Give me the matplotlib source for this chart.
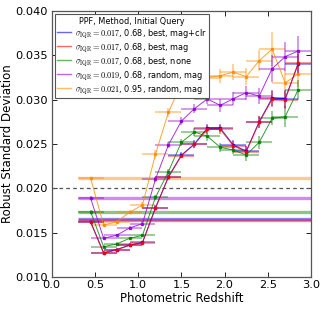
import matplotlib
matplotlib.use("Agg")
import matplotlib.pyplot as plt
from matplotlib.lines import Line2D

plt.rcParams['mathtext.fontset'] = 'cm'

z = [0.45, 0.6, 0.75, 0.9, 1.05, 1.2, 1.35, 1.5, 1.65, 1.8, 1.95, 2.1, 2.25, 2.4, 2.55, 2.7, 2.85]
zerr = 0.15

blue = [0.01625, 0.01275, 0.01310, 0.01360, 0.01390, 0.01780, 0.02130, 0.02375, 0.02500, 0.02680, 0.02680,
        0.02490, 0.02420, 0.02750, 0.03020, 0.03010, 0.03400]
red = [0.01617, 0.01267, 0.01305, 0.01357, 0.01386, 0.01775, 0.02124, 0.02368, 0.02497, 0.02666, 0.02666,
       0.02481, 0.02413, 0.02745, 0.03004, 0.02996, 0.03410]
green = [0.01737, 0.01342, 0.01372, 0.01436, 0.01470, 0.01899, 0.02188, 0.02519, 0.02635, 0.02587, 0.02463,
         0.02432, 0.02376, 0.02519, 0.02789, 0.02808, 0.03110]
purple = [0.01888, 0.01437, 0.01470, 0.01553, 0.01601, 0.02102, 0.02489, 0.02759, 0.02898, 0.03008, 0.02936,
          0.03011, 0.03079, 0.03041, 0.03350, 0.03485, 0.03549]
orange = [0.02113, 0.01587, 0.01620, 0.01730, 0.01812, 0.02384, 0.02857, 0.03180, 0.03220, 0.03250, 0.03270,
          0.03310, 0.03260, 0.03440, 0.03570, 0.03190, 0.03290]

blue_err = [0.0002, 0.0002, 0.0002, 0.0002, 0.0002, 0.0003, 0.0003, 0.0003, 0.0004, 0.0005, 0.0005,
            0.0005, 0.0006, 0.0007, 0.0009, 0.0010, 0.0012]
red_err = [0.0002, 0.0002, 0.0002, 0.0002, 0.0002, 0.0003, 0.0003, 0.0003, 0.0004, 0.0005, 0.0005,
           0.0005, 0.0006, 0.0007, 0.0009, 0.0010, 0.0012]
green_err = [0.0002, 0.0002, 0.0002, 0.0002, 0.0002, 0.0003, 0.0003, 0.0004, 0.0004, 0.0005, 0.0005,
             0.0005, 0.0007, 0.0007, 0.0008, 0.0012, 0.0011]
purple_err = [0.0002, 0.0002, 0.0002, 0.0002, 0.0003, 0.0003, 0.0003, 0.0004, 0.0005, 0.0006, 0.0007,
              0.0007, 0.0008, 0.0009, 0.0015, 0.0016, 0.0017]
orange_err = [0.0002, 0.0002, 0.0002, 0.0002, 0.0003, 0.0005, 0.0005, 0.0006, 0.0007, 0.0008, 0.0008,
              0.0009, 0.0010, 0.0012, 0.0019, 0.0015, 0.0015]

overall = {'blue': 0.01650, 'red': 0.01645, 'green': 0.01737, 'purple': 0.01888, 'orange': 0.02113}

labels = [r'$\sigma_{\rm IQR}=0.017$, 0.68, best, mag+clr',
          r'$\sigma_{\rm IQR}=0.017$, 0.68, best, mag',
          r'$\sigma_{\rm IQR}=0.017$, 0.68, best, none',
          r'$\sigma_{\rm IQR}=0.019$, 0.68, random, mag',
          r'$\sigma_{\rm IQR}=0.021$, 0.95, random, mag']
colors = {'blue': '#0000ff', 'red': '#ff0000', 'green': '#008000', 'purple': '#9400d3', 'orange': '#ff8c00'}

fig = plt.figure(figsize=(3.22, 3.12), dpi=100)
ax = fig.add_axes([0.1606, 0.1122, 0.8054, 0.8525])

series = [('orange', orange, orange_err), ('purple', purple, purple_err), ('green', green, green_err),
          ('blue', blue, blue_err), ('red', red, red_err)]

for name, vals, err in series:
    c = colors[name]
    ax.plot([0.3, 3.2], [overall[name]] * 2, color=c, lw=2.4, alpha=0.45, solid_capstyle='butt', zorder=1)
for name, vals, err in series:
    c = colors[name]
    ln, caps, bars = ax.errorbar(z, vals, xerr=zerr, yerr=err, fmt='-s', color=c, ms=1.8, mec=c,
                                 lw=0.7, elinewidth=1.4, capsize=0, zorder=3)
    ln.set_alpha(0.8)
    for b in bars:
        b.set_alpha(0.4)

ax.axhline(0.020, color='#555555', ls='--', lw=0.9, dashes=(3, 2.5), zorder=2)

ax.set_xlim(0.0, 3.0)
ax.set_ylim(0.010, 0.040)
ax.set_xticks([0.0, 0.5, 1.0, 1.5, 2.0, 2.5, 3.0])
ax.set_yticks([0.010, 0.015, 0.020, 0.025, 0.030, 0.035, 0.040])
ax.set_yticklabels(['0.010', '0.015', '0.020', '0.025', '0.030', '0.035', '0.040'])
ax.tick_params(direction='in', top=True, right=True, labelsize=8.2, length=3.5, width=0.6, pad=2.5)
for s in ax.spines.values():
    s.set_color('#555555')
    s.set_linewidth(0.9)
ax.set_xlabel('Photometric Redshift', fontsize=8.5, labelpad=1)
ax.set_ylabel('Robust Standard Deviation', fontsize=8.5, labelpad=1.5)

handles = [Line2D([], [], color=colors[n], alpha=0.6, lw=1.0) for n in ['blue', 'red', 'green', 'purple', 'orange']]
leg = ax.legend(handles, labels, loc='upper left', title='PPF, Method, Initial Query', fontsize=5.9,
                title_fontsize=5.9, frameon=True, fancybox=False, handlelength=1.6, handletextpad=0.5,
                borderaxespad=0.4, labelspacing=0.12, borderpad=0.3)
leg.get_frame().set_edgecolor('#555555')
leg.get_frame().set_linewidth(0.8)
leg.get_frame().set_alpha(1.0)
leg.set_zorder(10)

fig.savefig('out.png', dpi=100)
